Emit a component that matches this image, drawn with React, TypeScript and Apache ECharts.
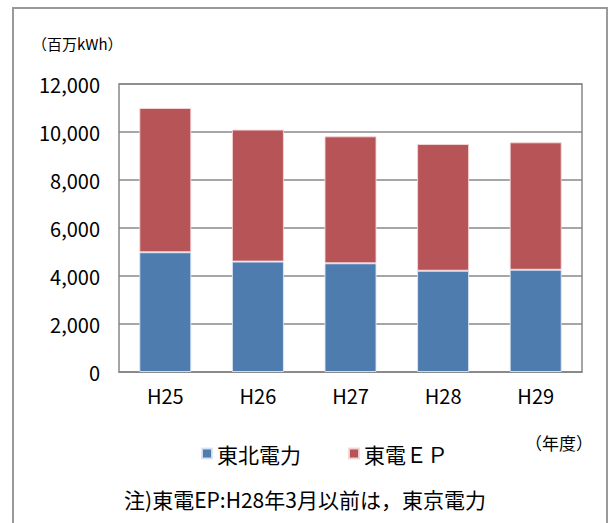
import React, { useEffect, useRef } from "react";
import * as echarts from "echarts";

const categories = ["H25", "H26", "H27", "H28", "H29"];
const tohokuValues = [4990, 4600, 4530, 4220, 4260];
const tepcoEPValues = [6010, 5500, 5290, 5280, 5310];
const seriesNames = ["東北電力", "東電ＥＰ"];
const yMin = 0;
const yMax = 12000;
const yInterval = 2000;
const unitLabel = "（百万kWh）";
const xUnitLabel = "（年度）";
const noteText = "注)東電EP:H28年3月以前は，東京電力";

const BLUE = "#4F7CAF";
const RED = "#B75457";
const GRID_GRAY = "#888888";
const JP_FONT = "'Noto Sans CJK JP', sans-serif";
const NUM_FONT = "'Noto Sans CJK JP', 'Noto Sans', sans-serif";

export default function App() {
  const ref = useRef<HTMLDivElement>(null);
  useEffect(() => {
    if (!ref.current) return;
    const chart = echarts.init(ref.current, undefined, { renderer: "svg" });
    chart.setOption({
      animation: false,
      backgroundColor: "#ffffff",
      grid: {
        left: 119,
        top: 84,
        width: 463,
        height: 288,
        show: true,
        borderColor: GRID_GRAY,
        borderWidth: 1.5,
        backgroundColor: "transparent",
      },
      legend: [
        {
          data: [seriesNames[0]],
          left: 196,
          top: 438,
          icon: "rect",
          itemWidth: 10,
          itemHeight: 10,
          textStyle: { fontFamily: JP_FONT, fontSize: 21, color: "#000" },
          selectedMode: false,
        },
        {
          data: [seriesNames[1]],
          left: 343,
          top: 438,
          icon: "rect",
          itemWidth: 10,
          itemHeight: 10,
          textStyle: { fontFamily: JP_FONT, fontSize: 21, color: "#000" },
          selectedMode: false,
        },
      ],
      xAxis: {
        type: "category",
        data: categories,
        axisLine: { show: true, lineStyle: { color: GRID_GRAY, width: 1.5 } },
        axisTick: { show: false },
        axisLabel: {
          color: "#000",
          fontFamily: NUM_FONT,
          fontSize: 20,
          margin: 13,
        },
      },
      yAxis: {
        type: "value",
        min: yMin,
        max: yMax,
        interval: yInterval,
        axisLine: { show: false },
        axisTick: { show: false },
        splitLine: { show: true, lineStyle: { color: GRID_GRAY, width: 1.5 } },
        axisLabel: {
          color: "#000",
          fontFamily: NUM_FONT,
          fontSize: 20,
          margin: 19,
          formatter: (v: number) => v.toLocaleString("en-US"),
        },
      },
      series: [
        {
          name: seriesNames[0],
          type: "bar",
          stack: "total",
          data: tohokuValues,
          barWidth: 52,
          itemStyle: { color: BLUE, borderColor: "rgba(220,230,245,0.9)", borderWidth: 1 },
        },
        {
          name: seriesNames[1],
          type: "bar",
          stack: "total",
          data: tepcoEPValues,
          barWidth: 52,
          itemStyle: { color: RED, borderColor: "rgba(245,215,218,0.9)", borderWidth: 1 },
        },
      ],
      graphic: [
        {
          type: "rect",
          shape: { x: 13, y: 8, width: 594, height: 530 },
          style: { fill: "none", stroke: "#999999", lineWidth: 2 },
          silent: true,
        },
        {
          type: "text",
          x: 32,
          y: 43,
          style: {
            text: unitLabel,
            font: `15px ${JP_FONT}`,
            fill: "#000",
            textAlign: "left",
            textVerticalAlign: "middle",
          },
        },
        {
          type: "text",
          x: 593,
          y: 442,
          style: {
            text: xUnitLabel,
            font: `17px ${JP_FONT}`,
            fill: "#000",
            textAlign: "right",
            textVerticalAlign: "middle",
          },
        },
        {
          type: "text",
          x: 305,
          y: 499,
          style: {
            text: noteText,
            font: `21px ${JP_FONT}`,
            fill: "#000",
            textAlign: "center",
            textVerticalAlign: "middle",
          },
        },
      ],
    });
    return () => chart.dispose();
  }, []);
  return (
    <div
      ref={ref}
      style={{ position: "absolute", left: 0, top: 0, width: 612, height: 523 }}
    />
  );
}
